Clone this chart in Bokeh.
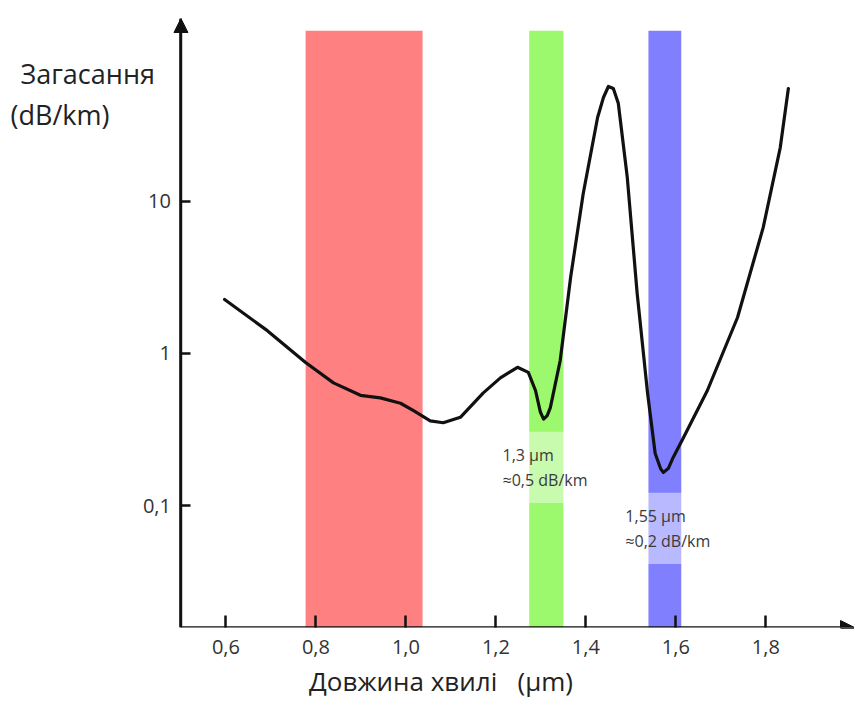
from bokeh.plotting import figure
from bokeh.models import (FixedTicker, CustomJSTickFormatter, Arrow, NormalHead,
                          Label, ColumnDataSource, Range1d)
from bokeh.embed import file_html
from bokeh.resources import INLINE
from bokeh.core.properties import value

# ---- data ----
wavelength = [0.597, 0.692, 0.777, 0.839, 0.899, 0.943, 0.988, 1.017, 1.054, 1.083,
              1.121, 1.172, 1.210, 1.248, 1.272, 1.288, 1.299, 1.306, 1.314, 1.321,
              1.343, 1.366, 1.394, 1.426, 1.439, 1.450, 1.461, 1.472, 1.492, 1.514,
              1.537, 1.554, 1.566, 1.572, 1.583, 1.594, 1.617, 1.670, 1.737, 1.794,
              1.832, 1.850]
attenuation = [2.26, 1.41, 0.87, 0.64, 0.53, 0.51, 0.47, 0.42, 0.36, 0.35,
               0.38, 0.55, 0.69, 0.81, 0.75, 0.57, 0.41, 0.37, 0.39, 0.44,
               0.90, 3.15, 11.2, 35.5, 48.0, 56.7, 55.0, 44.0, 14.3, 2.47,
               0.55, 0.22, 0.175, 0.165, 0.175, 0.207, 0.28, 0.57, 1.72, 6.7,
               22.5, 55.0]

band_left = [0.777, 1.274, 1.539]
band_right = [1.037, 1.350, 1.612]
band_top = 132
band_colors = ["#FF8080", "#9CF86C", "#8080FF"]

note_x = [1.188, 1.461]
note_y = [0.178, 0.0707]
note_text = ["1,3 µm\n≈0,5 dB/km", "1,55 µm\n≈0,2 dB/km"]

x_ticks = [0.6, 0.8, 1.0, 1.2, 1.4, 1.6, 1.8]
y_ticks = [0.1, 1, 10]

x_origin = 0.5          # where the two axes cross
y_origin = 0.0158
x_range = (0.0989, 1.997)
y_range = (y_origin, 158.6)

y_title = ["Загасання", "(dB/km)"]
y_title_x = [0.1433, 0.1211]
y_title_y = [69.0, 37.1]
x_title = "\u00a0\u00a0\u00a0\u00a0Довжина хвилі\u00a0\u00a0\u00a0(µm)"

FONT = "Open Sans"
INK = "#111111"

p = figure(width=854, height=715, output_backend="svg", toolbar_location=None,
           y_axis_type="log", x_range=Range1d(*x_range), y_range=Range1d(*y_range),
           min_border_left=0, min_border_right=0, min_border_top=18,
           min_border_bottom=88)
p.outline_line_color = None
p.grid.visible = False
p.background_fill_color = "white"

bands = ColumnDataSource(dict(left=band_left, right=band_right,
                              top=[band_top] * len(band_left),
                              bottom=[y_origin] * len(band_left),
                              color=band_colors))
p.quad(left="left", right="right", top="top", bottom="bottom", color="color",
       line_color=None, source=bands)

p.line(wavelength, attenuation, line_width=3.2, color=INK,
       line_join="round", line_cap="round")

notes = ColumnDataSource(dict(x=note_x, y=note_y, text=note_text))
p.text(x="x", y="y", text="text", source=notes, text_font=value(FONT),
       text_font_size="16px", text_color="#3a3a3a", text_align="left",
       text_baseline="middle", text_line_height=1.15,
       background_fill_color="white", background_fill_alpha=0.45, padding=12)

# axes
for ax in (p.xaxis, p.yaxis):
    ax.axis_line_width = 2.5
    ax.axis_line_color = INK
    ax.major_tick_line_width = 2.5
    ax.major_tick_line_color = INK
    ax.major_tick_out = 0
    ax.minor_tick_in = 0
    ax.minor_tick_out = 0
    ax.major_label_text_font = FONT
    ax.major_label_text_font_size = "20px"
    ax.major_label_text_color = "#333333"

p.xaxis.ticker = FixedTicker(ticks=x_ticks)
p.xaxis.formatter = CustomJSTickFormatter(code="return tick.toFixed(1).replace('.', ',');")
p.xaxis.axis_line_color = None      # the axis line is drawn by the arrow below
p.xaxis.major_tick_in = 12
p.xaxis.major_label_standoff = 12
p.xaxis.axis_label = x_title
p.xaxis.axis_label_text_font = FONT
p.xaxis.axis_label_text_font_style = "normal"
p.xaxis.axis_label_text_font_size = "26px"
p.xaxis.axis_label_text_color = "#222222"
p.xaxis.axis_label_standoff = 6

p.yaxis.ticker = FixedTicker(ticks=y_ticks)
p.yaxis.formatter = CustomJSTickFormatter(
    code="return tick < 1 ? tick.toFixed(1).replace('.', ',') : tick.toFixed(0);")
p.yaxis.fixed_location = x_origin
p.yaxis.bounds = y_range
p.yaxis.major_tick_in = 10
p.yaxis.major_label_standoff = 10

# arrow heads on axes
p.add_layout(Arrow(end=NormalHead(size=14, fill_color=INK, line_color=INK),
                   x_start=x_origin, y_start=y_origin, x_end=x_origin, y_end=y_range[1],
                   line_width=2.5, line_color=INK))
p.add_layout(Arrow(end=NormalHead(size=14, fill_color=INK, line_color=INK),
                   x_start=x_origin, y_start=y_origin, x_end=x_range[1], y_end=y_origin,
                   line_width=2.5, line_color=INK))

# y-axis title (horizontal, top-left)
for t, tx, ty in zip(y_title, y_title_x, y_title_y):
    p.add_layout(Label(x=tx, y=ty, text=t, text_font=FONT, text_font_size="27px",
                       text_color="#222222", text_baseline="middle"))

open("out.html", "w").write(file_html(p, INLINE))
